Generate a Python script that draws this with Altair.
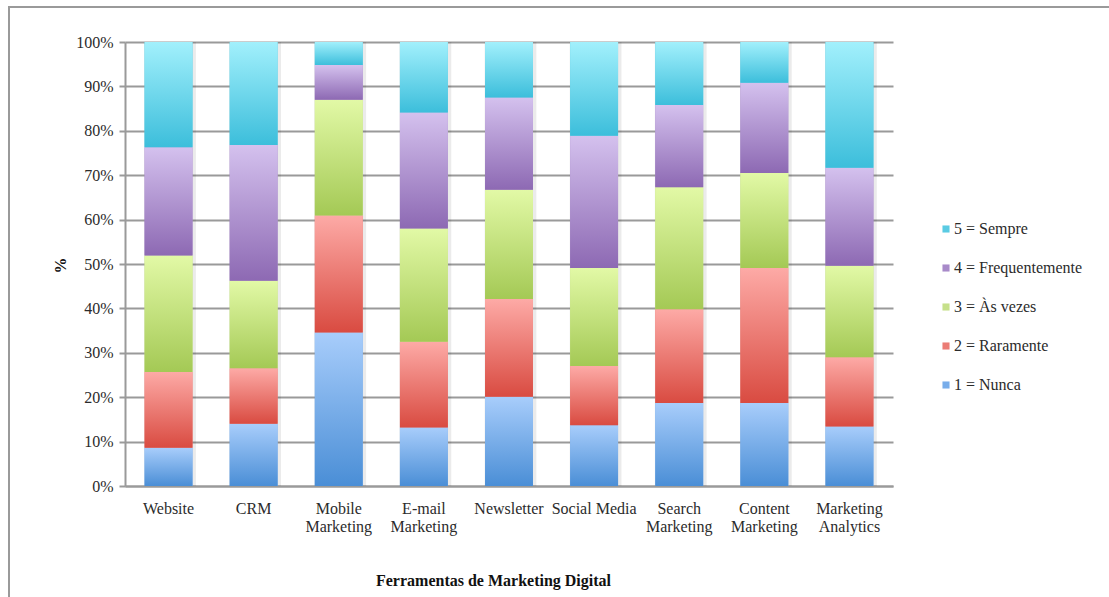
import altair as alt
import pandas as pd

# Digital marketing tools (x axis); "\n" marks the label line breaks
tools = [
    "Website", "CRM", "Mobile\nMarketing", "E-mail\nMarketing", "Newsletter",
    "Social Media", "Search\nMarketing", "Content\nMarketing", "Marketing\nAnalytics",
]

# Usage frequency levels, bottom of the stack first
levels = ["1 = Nunca", "2 = Raramente", "3 = Às vezes", "4 = Frequentemente", "5 = Sempre"]

# Share of answers (%) per tool, one list per level
nunca = [8.6, 14.0, 34.6, 13.2, 20.1, 13.7, 18.7, 18.7, 13.4]
raramente = [17.1, 12.5, 26.3, 19.3, 22.0, 13.3, 21.1, 30.4, 15.6]
as_vezes = [26.2, 19.7, 26.1, 25.5, 24.6, 22.1, 27.5, 21.4, 20.6]
frequentemente = [24.4, 30.6, 7.8, 26.1, 20.8, 29.8, 18.5, 20.3, 22.1]
sempre = [23.7, 23.2, 5.2, 15.9, 12.5, 21.1, 14.2, 9.2, 28.3]
series = [nunca, raramente, as_vezes, frequentemente, sempre]

# Colours: solid (legend) and top/bottom gradient stops (bars)
solid = ["#78ADEA", "#EB7C75", "#C6E08A", "#A88AC9", "#5ACBE3"]
grad_top = ["#A8CDFB", "#FDAAA6", "#E2F9A6", "#D4C1EE", "#A2F0FC"]
grad_bottom = ["#4A8ED6", "#D94B41", "#A4C955", "#8D69B3", "#3CBEDB"]

rows = []
for k, (lvl, vals) in enumerate(zip(levels, series), start=1):
    for tool, v in zip(tools, vals):
        rows.append({"tool": tool, "level": lvl, "k": k, "value": v})
df = pd.DataFrame(rows)

FONT = "Liberation Serif"
GRID = "#9a9a9a"
TEXT = "#2b2b2b"

base = alt.Chart(df).transform_stack(
    stack="value",
    groupby=["tool"],
    as_=["y0", "y1"],
    offset="normalize",
    sort=[alt.SortField("k", order="ascending")],
)

x_enc = alt.X(
    "tool:N",
    sort=tools,
    title="Ferramentas de Marketing Digital",
    scale=alt.Scale(paddingInner=0.437, paddingOuter=0.23),
    axis=alt.Axis(
        labelAngle=0,
        labelExpr="split(datum.label, '\\n')",
        labelLineHeight=18,
        labelFontSize=16,
        labelColor=TEXT,
        labelPadding=14,
        ticks=False,
        domainColor=GRID,
        domainWidth=2,
        titleFontSize=16,
        titleFontWeight="bold",
        titleColor="#111111",
        titleX=368,
        titleY=94,
        titleAlign="center",
        titleBaseline="middle",
    ),
)
y_enc = alt.Y(
    "y0:Q",
    title="%",
    scale=alt.Scale(domain=[0, 1], nice=False),
    axis=alt.Axis(
        format=".0%",
        values=[i / 10 for i in range(11)],
        labelFontSize=16,
        labelColor=TEXT,
        labelPadding=6,
        tickSize=6,
        tickColor=GRID,
        tickWidth=2,
        domainColor=GRID,
        domainWidth=2,
        gridColor=GRID,
        gridWidth=2,
        titleFontSize=16,
        titleFontWeight="bold",
        titleColor="#111111",
        titleX=-65,
        titleY=223,
        titleBaseline="middle",
    ),
)
y2_enc = alt.Y2("y1:Q")

# soft shadow behind each column
shadow = base.mark_bar(
    fill="#000000", opacity=0.08, width=alt.RelativeBandSize(1.08), xOffset=1.5
).encode(x=x_enc, y=y_enc, y2=y2_enc)

# solid bars carrying the legend
solid_bars = base.mark_bar().encode(
    x=x_enc,
    y=y_enc,
    y2=y2_enc,
    color=alt.Color(
        "level:N",
        scale=alt.Scale(domain=levels[::-1], range=solid[::-1]),
        legend=alt.Legend(
            title=None,
            orient="none",
            legendX=813,
            legendY=179,
            symbolType="square",
            symbolSize=50,
            symbolStrokeWidth=0,
            labelFont=FONT,
            labelFontSize=16,
            labelColor=TEXT,
            labelOffset=0,
            rowPadding=23,
        ),
    ),
)

# gradient-filled segments, one layer per level
grad_layers = []
for lvl, top, bottom in zip(levels, grad_top, grad_bottom):
    grad = alt.LinearGradient(
        gradient="linear",
        stops=[
            alt.GradientStop(color=top, offset=0),
            alt.GradientStop(color=bottom, offset=1),
        ],
        x1=0, x2=0, y1=0, y2=1,
    )
    grad_layers.append(
        base.transform_filter(alt.datum.level == lvl)
        .mark_bar(fill=grad)
        .encode(x=x_enc, y=y_enc, y2=y2_enc)
    )

# thin outer frame of the figure
frame = alt.Chart(pd.DataFrame({"f": [0]})).mark_rect(
    fill="transparent", stroke="#9a9a9a", strokeWidth=2
).encode(
    x=alt.value(-116), x2=alt.value(1200), y=alt.value(-35), y2=alt.value(700)
)

chart = alt.layer(frame, shadow, solid_bars, *grad_layers).properties(
    width=768,
    height=444,
    padding={"left": 125, "top": 42, "right": 216, "bottom": 111},
    autosize=alt.AutoSizeParams(type="none"),
    background="white",
).configure(font=FONT).configure_view(strokeWidth=0)

chart.save("out.html", embed_options={"renderer": "svg", "actions": False})
